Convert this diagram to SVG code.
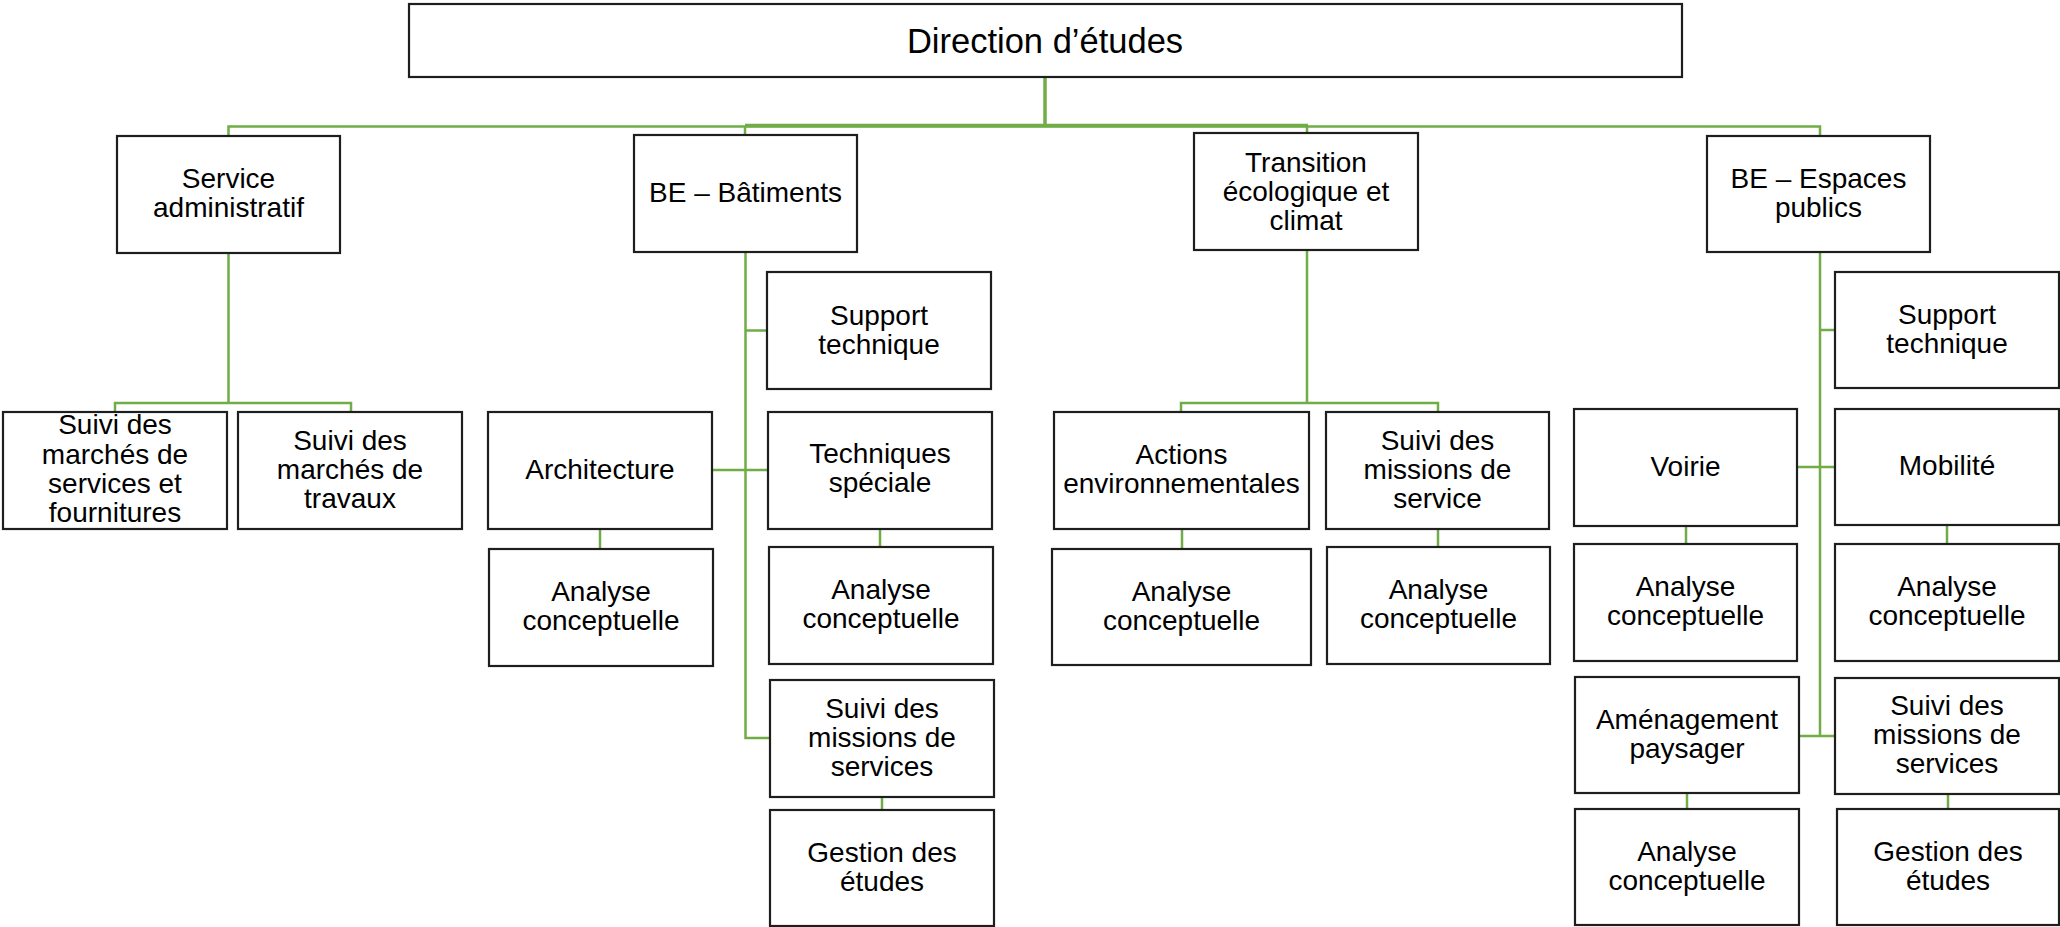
<svg xmlns="http://www.w3.org/2000/svg" width="2060" height="927" viewBox="0 0 2060 927">
<style>
.b{fill:#fff;stroke:#1e1e1e;stroke-width:2.2}
.t{font-family:"Liberation Sans",Arial,sans-serif;font-size:28px;fill:#000;text-anchor:middle}
.c{fill:none;stroke:#70AD47;stroke-width:2.5}
.ct{fill:none;stroke:#70AD47;stroke-width:3.5}
</style>
<rect width="2060" height="927" fill="#fff"/>
<g id="connectors">
<path class="ct" d="M1045,77 V126"/>
<path class="c" d="M228.5,136 V126.5 H1820 V136"/>
<path class="ct" d="M745,125.5 H1308"/>
<path class="c" d="M745,126 V135 M1307,126 V133"/>
<path class="c" d="M228.5,253 V403 M115,412 V403 H351 V412"/>
<path class="c" d="M745.5,252 V738 H770 M745.5,330.5 H767 M712,470 H768"/>
<path class="c" d="M600,528 V549 M880,529 V547 M882,797 V810"/>
<path class="c" d="M1307,250 V403 M1181,412 V403 H1438 V412"/>
<path class="c" d="M1182,529 V549 M1438,529 V547"/>
<path class="c" d="M1820,252 V736 H1835 M1820,330 H1835 M1797,467 H1835 M1799,736 H1820"/>
<path class="c" d="M1686,526 V544 M1947,525 V544 M1687,793 V809 M1948,794 V809"/>
</g>
<g id="n-direction"><rect class="b" x="409" y="4" width="1273" height="73"/><text class="t" style="font-size:34.5px" x="1045" y="52.5">Direction d’études</text></g>
<g id="n-service-admin"><rect class="b" x="117" y="136" width="223" height="117"/><text class="t" x="228.5"><tspan x="228.5" y="188">Service</tspan><tspan x="228.5" y="217">administratif</tspan></text></g>
<g id="n-be-batiments"><rect class="b" x="634" y="135" width="223" height="117"/><text class="t" x="745.5" y="201.5">BE – Bâtiments</text></g>
<g id="n-transition"><rect class="b" x="1194" y="133" width="224" height="117"/><text class="t"><tspan x="1306" y="171.5">Transition</tspan><tspan x="1306" y="200.5">écologique et</tspan><tspan x="1306" y="229.5">climat</tspan></text></g>
<g id="n-be-espaces"><rect class="b" x="1707" y="136" width="223" height="116"/><text class="t"><tspan x="1818.5" y="187.5">BE – Espaces</tspan><tspan x="1818.5" y="216.5">publics</tspan></text></g>
<g id="n-suivi-marches-services"><rect class="b" x="3" y="412" width="224" height="117"/><text class="t"><tspan x="115" y="434">Suivi des</tspan><tspan x="115" y="463.5">marchés de</tspan><tspan x="115" y="493">services et</tspan><tspan x="115" y="522">fournitures</tspan></text></g>
<g id="n-suivi-marches-travaux"><rect class="b" x="238" y="412" width="224" height="117"/><text class="t"><tspan x="350" y="449.5">Suivi des</tspan><tspan x="350" y="478.5">marchés de</tspan><tspan x="350" y="507.5">travaux</tspan></text></g>
<g id="n-architecture"><rect class="b" x="488" y="412" width="224" height="117"/><text class="t" x="600" y="478.5">Architecture</text></g>
<g id="n-ac-architecture"><rect class="b" x="489" y="549" width="224" height="117"/><text class="t"><tspan x="601" y="601">Analyse</tspan><tspan x="601" y="630">conceptuelle</tspan></text></g>
<g id="n-support-bat"><rect class="b" x="767" y="272" width="224" height="117"/><text class="t"><tspan x="879" y="324.5">Support</tspan><tspan x="879" y="353.5">technique</tspan></text></g>
<g id="n-techniques"><rect class="b" x="768" y="412" width="224" height="117"/><text class="t"><tspan x="880" y="463">Techniques</tspan><tspan x="880" y="492">spéciale</tspan></text></g>
<g id="n-ac-techniques"><rect class="b" x="769" y="547" width="224" height="117"/><text class="t"><tspan x="881" y="599">Analyse</tspan><tspan x="881" y="628">conceptuelle</tspan></text></g>
<g id="n-suivi-missions-bat"><rect class="b" x="770" y="680" width="224" height="117"/><text class="t"><tspan x="882" y="717.5">Suivi des</tspan><tspan x="882" y="746.5">missions de</tspan><tspan x="882" y="775.5">services</tspan></text></g>
<g id="n-gestion-bat"><rect class="b" x="770" y="810" width="224" height="116"/><text class="t"><tspan x="882" y="861.5">Gestion des</tspan><tspan x="882" y="890.5">études</tspan></text></g>
<g id="n-actions-env"><rect class="b" x="1054" y="412" width="255" height="117"/><text class="t"><tspan x="1181.5" y="464">Actions</tspan><tspan x="1181.5" y="493">environnementales</tspan></text></g>
<g id="n-suivi-missions-service"><rect class="b" x="1326" y="412" width="223" height="117"/><text class="t"><tspan x="1437.5" y="449.5">Suivi des</tspan><tspan x="1437.5" y="478.5">missions de</tspan><tspan x="1437.5" y="507.5">service</tspan></text></g>
<g id="n-ac-actions"><rect class="b" x="1052" y="549" width="259" height="116"/><text class="t"><tspan x="1181.5" y="600.5">Analyse</tspan><tspan x="1181.5" y="629.5">conceptuelle</tspan></text></g>
<g id="n-ac-suivi-service"><rect class="b" x="1327" y="547" width="223" height="117"/><text class="t"><tspan x="1438.5" y="599">Analyse</tspan><tspan x="1438.5" y="628">conceptuelle</tspan></text></g>
<g id="n-support-ep"><rect class="b" x="1835" y="272" width="224" height="116"/><text class="t"><tspan x="1947" y="323.5">Support</tspan><tspan x="1947" y="352.5">technique</tspan></text></g>
<g id="n-voirie"><rect class="b" x="1574" y="409" width="223" height="117"/><text class="t" x="1685.5" y="475.5">Voirie</text></g>
<g id="n-mobilite"><rect class="b" x="1835" y="409" width="224" height="116"/><text class="t" x="1947" y="475">Mobilité</text></g>
<g id="n-ac-voirie"><rect class="b" x="1574" y="544" width="223" height="117"/><text class="t"><tspan x="1685.5" y="596">Analyse</tspan><tspan x="1685.5" y="625">conceptuelle</tspan></text></g>
<g id="n-ac-mobilite"><rect class="b" x="1835" y="544" width="224" height="117"/><text class="t"><tspan x="1947" y="596">Analyse</tspan><tspan x="1947" y="625">conceptuelle</tspan></text></g>
<g id="n-amenagement"><rect class="b" x="1575" y="677" width="224" height="116"/><text class="t"><tspan x="1687" y="728.5">Aménagement</tspan><tspan x="1687" y="757.5">paysager</tspan></text></g>
<g id="n-suivi-missions-ep"><rect class="b" x="1835" y="678" width="224" height="116"/><text class="t"><tspan x="1947" y="715">Suivi des</tspan><tspan x="1947" y="744">missions de</tspan><tspan x="1947" y="773">services</tspan></text></g>
<g id="n-ac-amenagement"><rect class="b" x="1575" y="809" width="224" height="116"/><text class="t"><tspan x="1687" y="860.5">Analyse</tspan><tspan x="1687" y="889.5">conceptuelle</tspan></text></g>
<g id="n-gestion-ep"><rect class="b" x="1837" y="809" width="222" height="116"/><text class="t"><tspan x="1948" y="860.5">Gestion des</tspan><tspan x="1948" y="889.5">études</tspan></text></g>
</svg>
